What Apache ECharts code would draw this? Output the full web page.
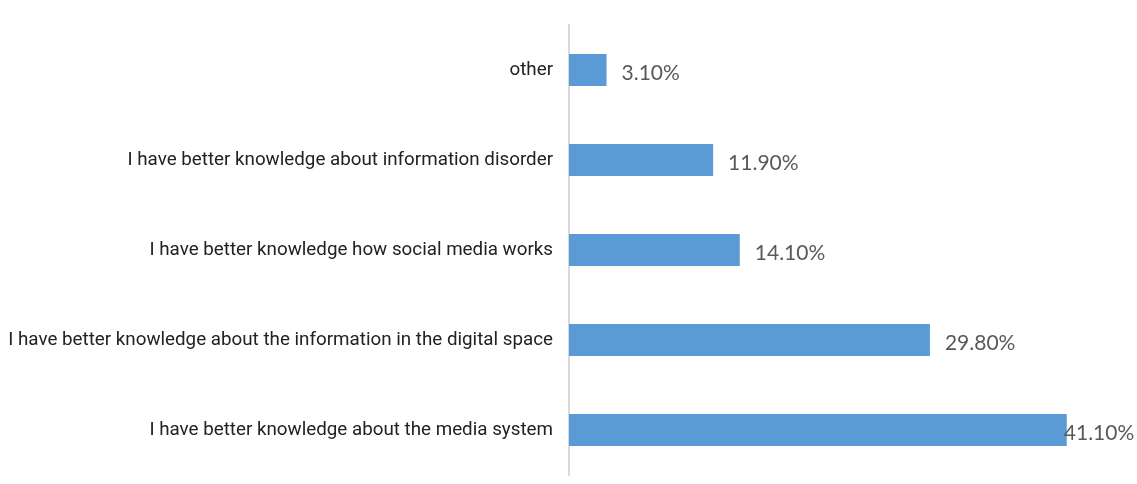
<!DOCTYPE html>
<html>
<head>
<meta charset="utf-8">
<script src="https://cdn.jsdelivr.net/npm/echarts@6/dist/echarts.min.js"></script>
<style>
  html, body { margin: 0; padding: 0; background: #fff; }
  #chart { width: 1137px; height: 484px; }
</style>
</head>
<body>
<div id="chart"></div>
<script>
// Survey answers, listed bottom to top
const categories = [
  'I have better knowledge about the media system',
  'I have better knowledge about the information in the digital space',
  'I have better knowledge how social media works',
  'I have better knowledge about information disorder',
  'other'
];
const shares = [41.1, 29.8, 14.1, 11.9, 3.1];

const maxShare = Math.max(...shares);
const barData = shares.map(v => {
  const item = { value: v };
  // the longest bar's label is pulled back so it stays on the canvas
  if (v === maxShare) item.label = { distance: -3 };
  return item;
});

const chart = echarts.init(document.getElementById('chart'));
chart.setOption({
  animation: false,
  grid: { left: 569, right: 23, top: 25, bottom: 9, containLabel: false },
  xAxis: {
    type: 'value',
    min: 0,
    max: 45,
    show: false
  },
  yAxis: {
    type: 'category',
    data: categories,
    axisLine: { show: true, lineStyle: { color: '#d9d9d9', width: 2 } },
    axisTick: { show: false },
    axisLabel: {
      margin: 16,
      color: '#222222',
      fontFamily: 'Roboto',
      fontSize: 18.8,
      padding: [0, 0, 8, 0]
    },
    splitLine: { show: false }
  },
  series: [{
    type: 'bar',
    data: barData,
    barWidth: 32,
    itemStyle: { color: '#5b9bd5' },
    label: {
      show: true,
      position: 'right',
      distance: 15,
      offset: [0, 3],
      color: '#595959',
      fontFamily: 'Lato',
      fontSize: 21,
      formatter: p => p.value.toFixed(2) + '%'
    }
  }]
});
</script>
</body>
</html>
